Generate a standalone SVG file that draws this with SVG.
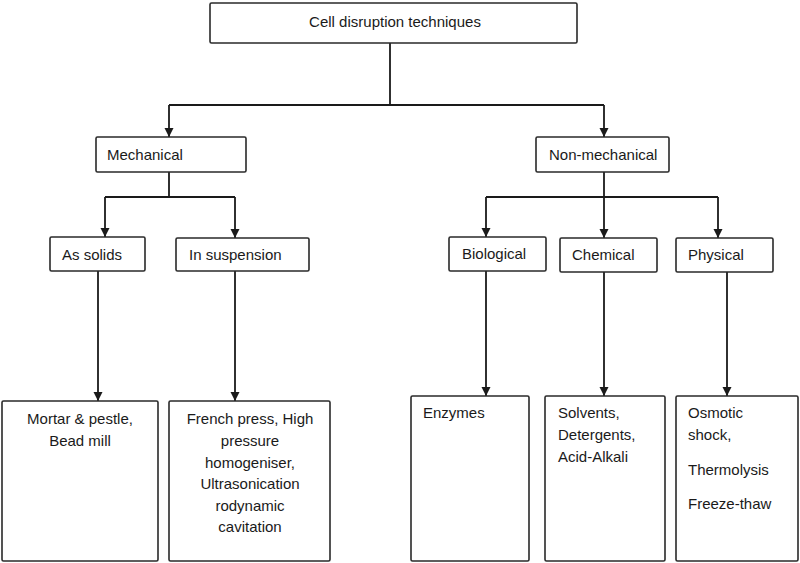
<svg xmlns="http://www.w3.org/2000/svg" width="800" height="563" viewBox="0 0 800 563">
<style>
.box{fill:#fff;stroke:#2a2a2a;stroke-width:1.6}
.ln{fill:none;stroke:#1a1a1a;stroke-width:1.8}
text{font-family:"Liberation Sans",Arial,sans-serif;font-size:15px;fill:#1a1a1a}
.c{text-anchor:middle}
</style>
<defs>
<marker id="ah" viewBox="0 0 10 10" refX="10" refY="5" markerWidth="5" markerHeight="5.5" markerUnits="strokeWidth" orient="auto">
<path d="M0,0 L10,5 L0,10 z" fill="#1a1a1a"/>
</marker>
</defs>
<g id="connectors">
<path class="ln" d="M390,43 V105"/>
<path class="ln" d="M169,105 H604"/>
<path class="ln" d="M169,105 V137" marker-end="url(#ah)"/>
<path class="ln" d="M604,105 V137" marker-end="url(#ah)"/>
<path class="ln" d="M169,172 V197"/>
<path class="ln" d="M105,197 H235"/>
<path class="ln" d="M105,197 V237" marker-end="url(#ah)"/>
<path class="ln" d="M235,197 V238" marker-end="url(#ah)"/>
<path class="ln" d="M604,172 V197"/>
<path class="ln" d="M486,197 H718"/>
<path class="ln" d="M486,197 V237" marker-end="url(#ah)"/>
<path class="ln" d="M604,197 V238" marker-end="url(#ah)"/>
<path class="ln" d="M718,197 V238" marker-end="url(#ah)"/>
<path class="ln" d="M98,271 V401" marker-end="url(#ah)"/>
<path class="ln" d="M235,271 V401" marker-end="url(#ah)"/>
<path class="ln" d="M486,271 V396" marker-end="url(#ah)"/>
<path class="ln" d="M604,272 V396" marker-end="url(#ah)"/>
<path class="ln" d="M727,272 V396" marker-end="url(#ah)"/>
</g>
<g id="root">
<rect class="box" x="210" y="3" width="367" height="40" rx="1.5"/>
<text class="c" x="395" y="27">Cell disruption techniques</text>
</g>
<g id="mechanical">
<rect class="box" x="96" y="137" width="150" height="35" rx="1.5"/>
<text x="107" y="160">Mechanical</text>
</g>
<g id="nonmechanical">
<rect class="box" x="536" y="137" width="133" height="35" rx="1.5"/>
<text x="549" y="160">Non-mechanical</text>
</g>
<g id="assolids">
<rect class="box" x="50" y="237" width="95" height="34" rx="1.5"/>
<text x="62" y="260">As solids</text>
</g>
<g id="insuspension">
<rect class="box" x="176" y="238" width="133" height="33" rx="1.5"/>
<text x="189" y="260">In suspension</text>
</g>
<g id="biological">
<rect class="box" x="449" y="237" width="97" height="34" rx="1.5"/>
<text x="462" y="259">Biological</text>
</g>
<g id="chemical">
<rect class="box" x="560" y="238" width="97" height="34" rx="1.5"/>
<text x="572" y="260">Chemical</text>
</g>
<g id="physical">
<rect class="box" x="676" y="238" width="97" height="34" rx="1.5"/>
<text x="688" y="260">Physical</text>
</g>
<g id="mortar">
<rect class="box" x="2" y="401" width="156" height="160" rx="1.5"/>
<text class="c" x="80" y="424">Mortar &amp; pestle,</text>
<text class="c" x="80" y="446">Bead mill</text>
</g>
<g id="french">
<rect class="box" x="169" y="401" width="161" height="160" rx="1.5"/>
<text class="c" x="250" y="424">French press, High</text>
<text class="c" x="250" y="446">pressure</text>
<text class="c" x="250" y="468">homogeniser,</text>
<text class="c" x="250" y="489">Ultrasonication</text>
<text class="c" x="250" y="511">rodynamic</text>
<text class="c" x="250" y="532">cavitation</text>
</g>
<g id="enzymes">
<rect class="box" x="411" y="396" width="118" height="165" rx="1.5"/>
<text x="423" y="418">Enzymes</text>
</g>
<g id="solvents">
<rect class="box" x="545" y="396" width="120" height="165" rx="1.5"/>
<text x="558" y="418">Solvents,</text>
<text x="558" y="440">Detergents,</text>
<text x="558" y="462">Acid-Alkali</text>
</g>
<g id="osmotic">
<rect class="box" x="676" y="396" width="122" height="165" rx="1.5"/>
<text x="688" y="418">Osmotic</text>
<text x="688" y="440">shock,</text>
<text x="688" y="475">Thermolysis</text>
<text x="688" y="509">Freeze-thaw</text>
</g>
</svg>
